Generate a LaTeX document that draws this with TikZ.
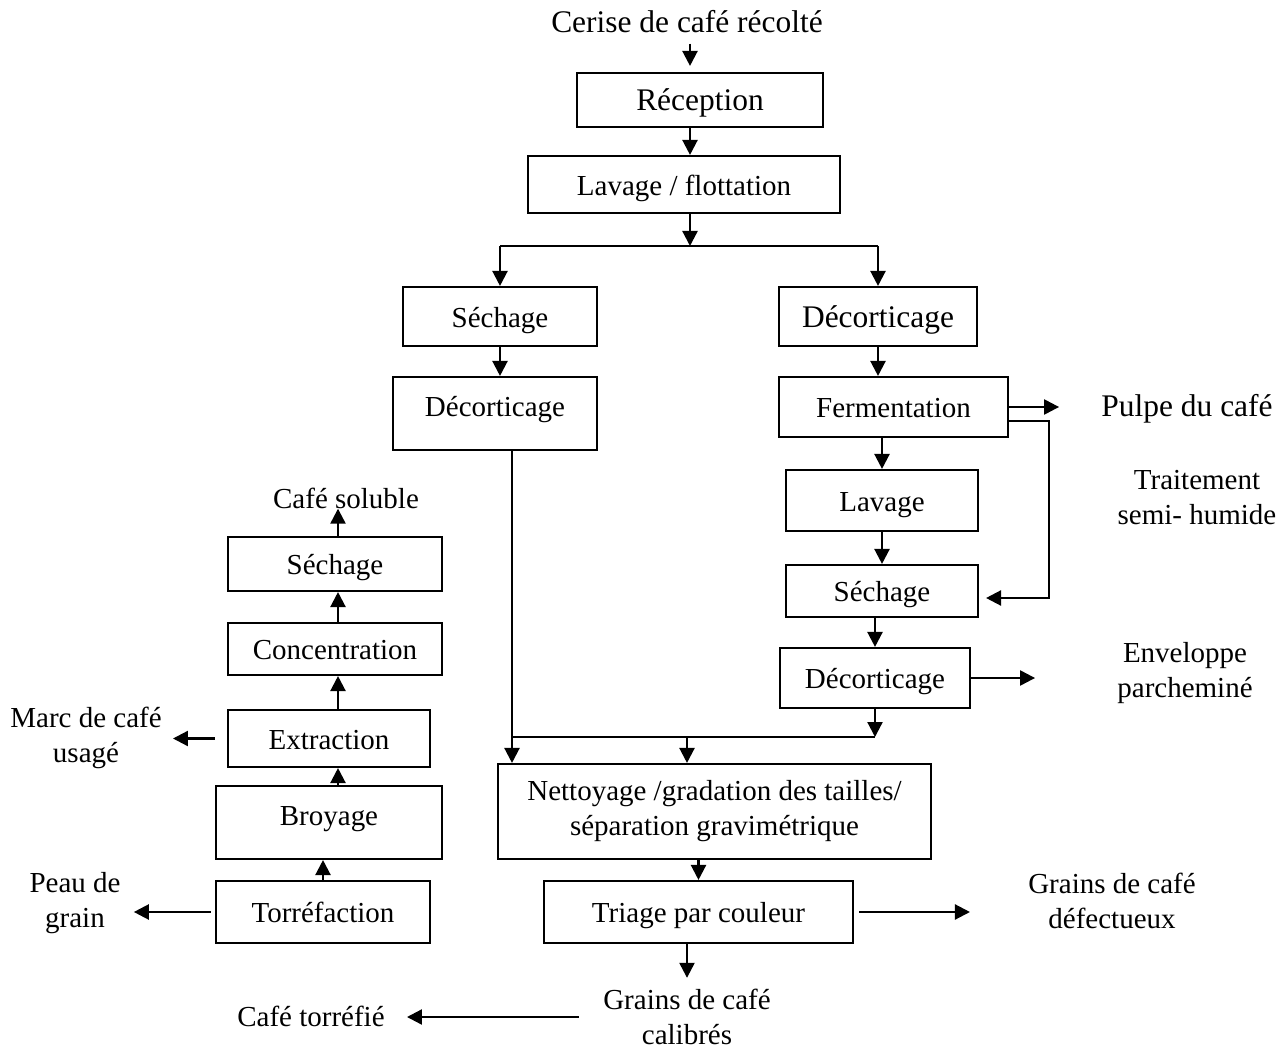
\documentclass[tikz,border=0pt]{standalone}
\usepackage{fontspec}
\setmainfont{Liberation Serif}
\usetikzlibrary{arrows.meta}
\begin{document}
\begin{tikzpicture}[x=0.02cm,y=-0.02cm,
  every node/.style={font=\fontsize{16.5}{19.9}\selectfont},
  multibox/.style={draw,line width=1.2pt,inner sep=0pt,align=center},
  box/.style={multibox,text height=13pt,text depth=1pt},
  tallbox/.style={box,text depth=10pt},
  lbl/.style={inner sep=0pt,align=center},
  big/.style={font=\fontsize{17.9}{21}\selectfont},
  arr/.style={line width=1.3pt,-{Triangle[length=0.3cm,width=0.3cm]}},
  ln/.style={line width=1.3pt}]
\useasboundingbox (0,0) rectangle (1281,1050);

% ligne principale
\node[lbl,big] (cerise) at (687,22) {Cerise de café récolté};
\node[box,big,minimum width=4.92cm,minimum height=1.08cm] (recep) at (700,100) {Réception};
\node[box,minimum width=6.24cm,minimum height=1.14cm] (lavflot) at (684,184.5) {Lavage / flottation};

% voie seche
\node[box,minimum width=3.88cm,minimum height=1.18cm] (sech1) at (500,316.5) {Séchage};
\node[tallbox,minimum width=4.08cm,minimum height=1.46cm] (decort1) at (495,413.5) {Décorticage};

% voie humide
\node[box,big,minimum width=3.96cm,minimum height=1.18cm] (decort2) at (878,316.5) {Décorticage};
\node[box,minimum width=4.58cm,minimum height=1.2cm] (ferm) at (893.5,407) {Fermentation};
\node[box,minimum width=3.84cm,minimum height=1.22cm] (lav2) at (882,500.5) {Lavage};
\node[box,minimum width=3.84cm,minimum height=1.04cm] (sech2) at (882,591) {Séchage};
\node[box,minimum width=3.8cm,minimum height=1.2cm] (decort3) at (875,678) {Décorticage};

\node[lbl,big] (pulpe) at (1187,409) {Pulpe du café};
\node[lbl] (traitement) at (1197,498) {Traitement\\semi- humide};
\node[lbl] (envel) at (1185,673) {Enveloppe\\parcheminé};

% tri
\node[multibox,minimum width=8.66cm,minimum height=1.9cm] (nett) at (714.5,811.5) {Nettoyage /gradation des tailles/\\séparation gravimétrique};
\node[box,minimum width=6.18cm,minimum height=1.24cm] (triage) at (698.5,912) {Triage par couleur};
\node[lbl] (grdef) at (1112,901) {Grains de café\\défectueux};
\node[lbl] (grcal) at (687,1017) {Grains de café\\calibrés};
\node[lbl] (torrefie) at (311,1016) {Café torréfié};

% cafe soluble
\node[box,minimum width=4.28cm,minimum height=1.24cm] (torr) at (323,912) {Torréfaction};
\node[tallbox,minimum width=4.52cm,minimum height=1.46cm] (broy) at (329,822.5) {Broyage};
\node[box,minimum width=4.04cm,minimum height=1.14cm] (extr) at (329,738.5) {Extraction};
\node[box,minimum width=4.28cm,minimum height=1.04cm] (conc) at (335,649) {Concentration};
\node[box,minimum width=4.28cm,minimum height=1.08cm] (sech3) at (335,564) {Séchage};
\node[lbl] (soluble) at (346,498) {Café soluble};
\node[lbl] (marc) at (86,738) {Marc de café\\usagé};
\node[lbl] (peau) at (75,903) {Peau de\\grain};

\coordinate (spine) at (690,0);
\coordinate (split) at (690,246);
\coordinate (merge) at (687,737);
\coordinate (lspine) at (338,0);

% fleches
\draw[arr] ([yshift=-0.2cm]spine |- cerise.south) -- ([yshift=0.12cm]spine |- recep.north);
\draw[arr] (spine |- recep.south) -- (spine |- lavflot.north);
\draw[arr] (spine |- lavflot.south) -- (split);
\draw[ln] (split -| sech1) -- (split -| decort2);
\draw[arr] (split -| sech1) -- (sech1.north);
\draw[arr] (split -| decort2) -- (decort2.north);

\draw[arr] (sech1.south) -- (sech1.south |- decort1.north);
\draw[arr] (decort2.south) -- (decort2.south |- ferm.north);
\draw[arr] (lav2 |- ferm.south) -- (lav2.north);
\draw[arr] (lav2.south) -- (sech2.north);
\draw[arr] (decort3 |- sech2.south) -- (decort3.north);
\draw[arr] (ferm.east) -- ([xshift=-0.84cm]pulpe.west |- ferm.east);
\draw[arr] ([yshift=-0.28cm]ferm.east) -- ++(0.8cm,0) |- ([xshift=0.14cm,yshift=-0.14cm]sech2.east);
\draw[arr] (decort3.east) -- ([xshift=-1.64cm]envel.west |- decort3.east);

\draw[arr] ([xshift=0.34cm]decort1.south) -- ([xshift=0.34cm]decort1.south |- nett.north);
\draw[arr] (decort3.south) -- (decort3.south |- merge);
\draw[ln] ([xshift=0.34cm]decort1.south |- merge) -- (decort3.south |- merge);
\draw[arr] (merge) -- (merge |- nett.north);

\draw[arr] (triage |- nett.south) -- (triage.north);
\draw[arr] ([xshift=0.1cm]triage.east) -- ([xshift=-1.16cm]grdef.west |- triage.east);
\draw[arr] (grcal |- triage.south) -- ([yshift=0.22cm]grcal.north);
\draw[arr] ([xshift=-0.48cm]grcal.west) -- ([xshift=0.44cm]torrefie.east |- grcal.west);

\draw[arr] (torr.north) -- (torr.north |- broy.south);
\draw[arr] (lspine |- broy.north) -- (lspine |- extr.south);
\draw[arr] (lspine |- extr.north) -- (lspine |- conc.south);
\draw[arr] (lspine |- conc.north) -- (lspine |- sech3.south);
\draw[arr] (lspine |- sech3.north) -- (lspine |- soluble.south);
\draw[arr] ([xshift=-0.24cm]extr.west) -- ([xshift=0.22cm]marc.east |- extr.west);
\draw[arr] ([xshift=-0.08cm]torr.west) -- ([xshift=0.26cm]peau.east |- torr.west);
\end{tikzpicture}
\end{document}
